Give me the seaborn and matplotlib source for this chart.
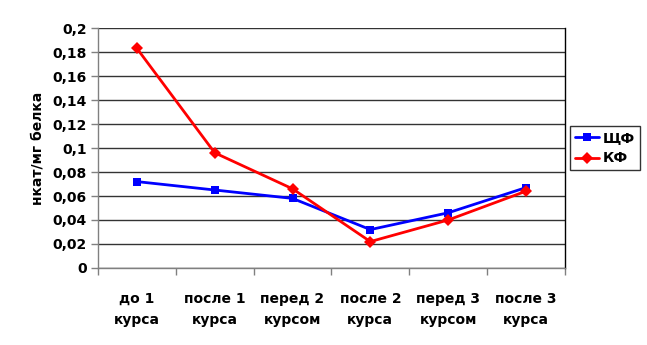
import matplotlib
matplotlib.use("Agg")
import matplotlib.pyplot as plt
import numpy as np
import pandas as pd
import seaborn as sns

CATEGORIES = ["до 1\nкурса", "после 1\nкурса", "перед 2\nкурсом",
              "после 2\nкурса", "перед 3\nкурсом", "после 3\nкурса"]
SHF = [0.072, 0.065, 0.058, 0.032, 0.046, 0.067]
KF = [0.183, 0.096, 0.066, 0.022, 0.040, 0.064]
SERIES = ["ЩФ", "КФ"]
Y_TICKS = [0, 0.02, 0.04, 0.06, 0.08, 0.1, 0.12, 0.14, 0.16, 0.18, 0.2]

df = pd.DataFrame({
    "pos": list(range(len(CATEGORIES))) * 2,
    "value": SHF + KF,
    "series": [SERIES[0]] * len(SHF) + [SERIES[1]] * len(KF),
})

sns.set_theme(style="white")
plt.rcParams["font.family"] = ["DejaVu Sans"]
plt.rcParams["text.color"] = "black"
plt.rcParams["axes.labelcolor"] = "black"
plt.rcParams["xtick.color"] = "black"
plt.rcParams["ytick.color"] = "black"

fig = plt.figure(figsize=(6.47, 3.45), dpi=100)
ax = fig.add_axes([0.1515, 0.2232, 0.7215, 0.6956])

sns.lineplot(data=df, x="pos", y="value", hue="series", style="series",
             palette={"ЩФ": "#0000ff", "КФ": "#ff0000"},
             markers={"ЩФ": "s", "КФ": "D"}, dashes=False,
             markersize=6, linewidth=2, markeredgewidth=0, ax=ax)

ax.set_xlim(-0.5, len(CATEGORIES) - 0.5)
ax.set_ylim(0, 0.2)
ax.set_yticks(Y_TICKS)
ax.set_yticklabels([f"{t:g}".replace(".", ",") for t in Y_TICKS],
                   fontsize=10, fontweight="bold")
ax.yaxis.grid(True, color="#333333", linewidth=1)
ax.set_axisbelow(True)

ax.set_xticks(np.arange(-0.5, len(CATEGORIES), 1.0))
ax.set_xticklabels([])
ax.set_xticks(np.arange(len(CATEGORIES)), minor=True)
ax.set_xticklabels(CATEGORIES, minor=True, fontsize=10, fontweight="bold",
                   linespacing=1.65)
ax.tick_params(axis="x", which="major", direction="out", length=5,
               color="#808080", width=1, bottom=True)
ax.tick_params(axis="x", which="minor", length=0, pad=17)
ax.tick_params(axis="y", direction="out", length=5, color="#808080",
               width=1, left=True, pad=3)

ax.set_xlabel("")
ax.set_ylabel("нкат/мг белка", fontsize=10, fontweight="bold", labelpad=6)

ax.spines["top"].set_visible(False)
ax.spines["left"].set_color("#808080")
ax.spines["bottom"].set_color("#808080")
ax.spines["right"].set_color("#000000")
for s in ["left", "bottom", "right"]:
    ax.spines[s].set_linewidth(1)

leg = ax.legend(loc="center left", bbox_to_anchor=(1.012, 0.5),
                frameon=True, fancybox=False, edgecolor="#000000",
                prop={"weight": "bold", "size": 10},
                handlelength=1.7, handletextpad=0.3, borderpad=0.35,
                labelspacing=0.5, borderaxespad=0)
leg.get_frame().set_linewidth(1)

fig.savefig("out.png", dpi=100)
